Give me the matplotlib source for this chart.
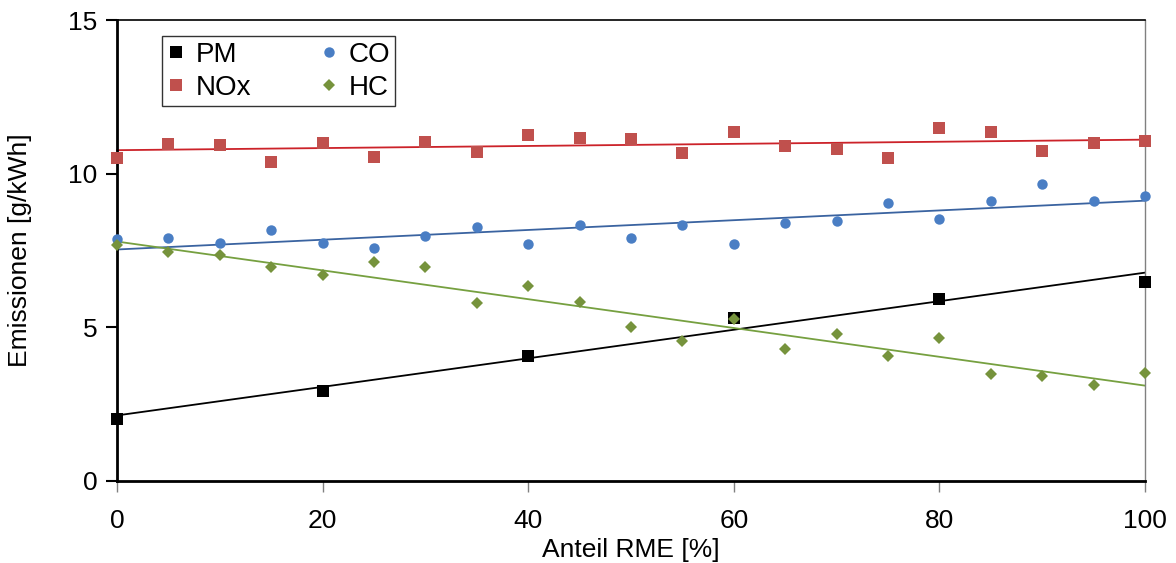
import numpy as np
import matplotlib
matplotlib.use("Agg")
import matplotlib.pyplot as plt

plt.rcParams['font.family'] = ['Liberation Sans', 'DejaVu Sans']

# RME share [%] and measured emissions [g/kWh]
rme_pm = [0, 20, 40, 60, 80, 100]
pm = [2.01, 2.94, 4.08, 5.31, 5.92, 6.48]

rme = [0, 5, 10, 15, 20, 25, 30, 35, 40, 45, 50,
       55, 60, 65, 70, 75, 80, 85, 90, 95, 100]
nox = [10.52, 10.97, 10.94, 10.39, 11.00, 10.55, 11.04, 10.71, 11.27, 11.17, 11.14,
       10.68, 11.36, 10.91, 10.81, 10.52, 11.49, 11.36, 10.75, 11.00, 11.07]
co = [7.88, 7.91, 7.75, 8.16, 7.75, 7.59, 7.96, 8.26, 7.72, 8.34, 7.90,
      8.34, 7.71, 8.40, 8.45, 9.06, 8.51, 9.11, 9.68, 9.11, 9.28]
hc = [7.69, 7.46, 7.34, 6.95, 6.69, 7.12, 6.97, 5.78, 6.35, 5.84, 5.02,
      4.55, 5.28, 4.29, 4.79, 4.08, 4.65, 3.48, 3.42, 3.13, 3.51]

x_ticks = [0, 20, 40, 60, 80, 100]
y_ticks = [0, 5, 10, 15]

fig = plt.figure(figsize=(11.76, 5.63), dpi=100)
ax = fig.add_axes([117 / 1176, 1 - 481 / 563, (1145 - 117) / 1176, (481 - 20) / 563])

series = [
    ("PM", rme_pm, pm, dict(marker='s', color='black', markersize=8), 'black'),
    ("NOx", rme, nox, dict(marker='s', color='#C0504D', markersize=9), '#CC2229'),
    ("CO", rme, co, dict(marker='o', color='#4A7EC4', markersize=7.5), '#3A63A0'),
    ("HC", rme, hc, dict(marker='D', color='#76933C', markersize=6.3), '#76A040'),
]

xfit = np.array([0, 100])
for name, xs, ys, mk, lc in series:
    k, d = np.polyfit(xs, ys, 1)
    ax.plot(xfit, k * xfit + d, color=lc, lw=1.3, zorder=2, clip_on=False)

handles = []
for i, (name, xs, ys, mk, lc) in enumerate(series):
    h, = ax.plot(xs, ys, linestyle='none', markeredgewidth=0, label=name,
                 zorder=3 + i, clip_on=False, **mk)
    handles.append(h)

ax.set_xlim(0, 100)
ax.set_ylim(0, 15)
ax.set_xticks(x_ticks)
ax.set_yticks(y_ticks)
ax.tick_params(axis='both', labelsize=19, direction='out')
ax.tick_params(axis='y', length=8, width=1.5, pad=6)
ax.tick_params(axis='x', length=8, width=1, color='#808080', pad=12)

ax.spines['left'].set_linewidth(2)
ax.spines['bottom'].set_linewidth(2)
ax.spines['top'].set_linewidth(1.2)
ax.spines['right'].set_linewidth(1)
ax.spines['right'].set_color('#808080')

ax.set_xlabel("Anteil RME [%]", fontsize=19, labelpad=4)
ax.set_ylabel("Emissionen [g/kWh]", fontsize=19, labelpad=26)

leg = ax.legend(handles=handles, ncol=2, loc='upper left',
                bbox_to_anchor=(0.044, 0.965), fontsize=20, frameon=True,
                fancybox=False, edgecolor='black', handlelength=0.6,
                handletextpad=0.4, columnspacing=2.5, labelspacing=0.25,
                borderpad=0.2, borderaxespad=0)
leg.get_frame().set_linewidth(1)

fig.savefig("out.png", dpi=100)
